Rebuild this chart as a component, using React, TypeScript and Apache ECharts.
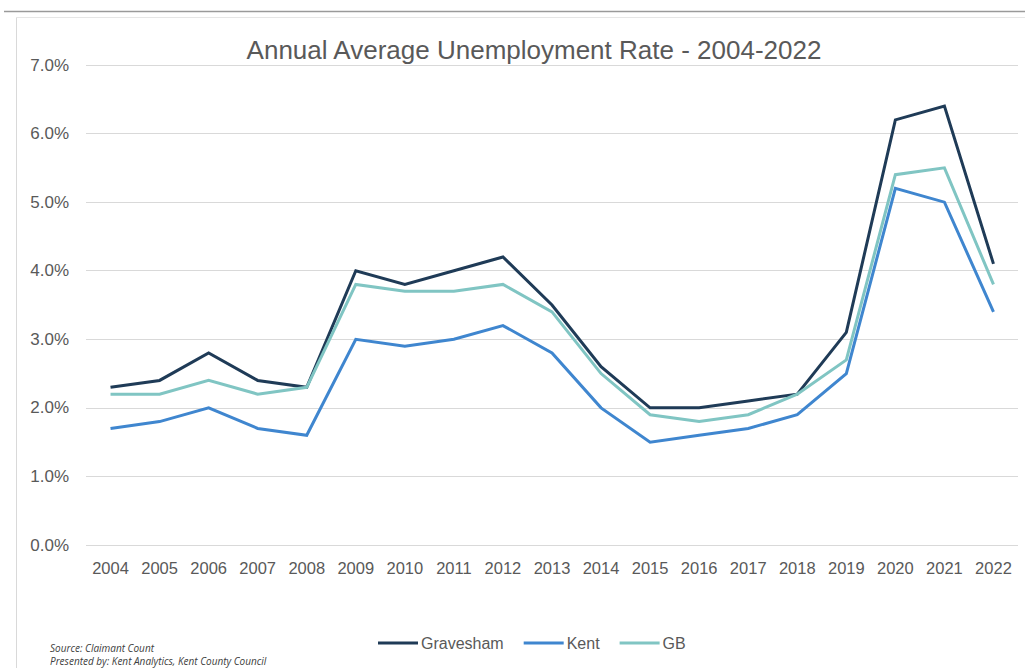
import React, { useEffect, useRef } from "react";
import * as echarts from "echarts";

const years = ["2004","2005","2006","2007","2008","2009","2010","2011","2012","2013","2014","2015","2016","2017","2018","2019","2020","2021","2022"];
const gravesham = [2.3, 2.4, 2.8, 2.4, 2.3, 4.0, 3.8, 4.0, 4.2, 3.5, 2.6, 2.0, 2.0, 2.1, 2.2, 3.1, 6.2, 6.4, 4.1];
const kent = [1.7, 1.8, 2.0, 1.7, 1.6, 3.0, 2.9, 3.0, 3.2, 2.8, 2.0, 1.5, 1.6, 1.7, 1.9, 2.5, 5.2, 5.0, 3.4];
const gb = [2.2, 2.2, 2.4, 2.2, 2.3, 3.8, 3.7, 3.7, 3.8, 3.4, 2.5, 1.9, 1.8, 1.9, 2.2, 2.7, 5.4, 5.5, 3.8];
const title = "Annual Average Unemployment Rate - 2004-2022";
const sourceLines = ["Source: Claimant Count", "Presented by: Kent Analytics, Kent County Council"];

const FONT = "'Liberation Sans', Arial, sans-serif";
const GREY = "#595959";

export default function App() {
  const ref = useRef<HTMLDivElement>(null);
  useEffect(() => {
    const chart = echarts.init(ref.current!, null, { renderer: "svg" });
    const mk = (name: string, data: number[], color: string) => ({
      name,
      type: "line",
      data,
      symbol: "none",
      lineStyle: { color, width: 3, join: "miter" },
      itemStyle: { color },
    });
    chart.setOption({
      animation: false,
      backgroundColor: "#ffffff",
      textStyle: { fontFamily: FONT },
      title: {
        text: title,
        left: 529,
        textAlign: "center",
        top: 32,
        textStyle: { fontSize: 26, fontWeight: "normal", color: GREY, fontFamily: FONT },
      },
      legend: {
        bottom: 12,
        left: 373,
        icon: "rect",
        itemWidth: 40,
        itemHeight: 3,
        itemGap: 20,
        textStyle: { fontSize: 16, color: GREY, fontFamily: FONT, padding: [0, 0, 0, -2] },
        data: ["Gravesham", "Kent", "GB"],
      },
      grid: { left: 86, right: 7, top: 65, bottom: 123, containLabel: false },
      xAxis: {
        type: "category",
        data: years,
        boundaryGap: true,
        axisLine: { show: false },
        axisTick: { show: false },
        axisLabel: { interval: 0, hideOverlap: false, fontSize: 16.5, color: GREY, margin: 14, fontFamily: FONT },
      },
      yAxis: {
        type: "value",
        min: 0,
        max: 7,
        interval: 1,
        axisLine: { show: false },
        axisTick: { show: false },
        splitLine: { lineStyle: { color: "#d9d9d9", width: 1 } },
        axisLabel: {
          fontSize: 17,
          color: GREY,
          margin: 17,
          fontFamily: FONT,
          formatter: (v: number) => v.toFixed(1) + "%",
        },
      },
      graphic: [
        { type: "line", shape: { x1: 4, y1: 11.5, x2: 1025, y2: 11.5 }, style: { stroke: "#9a9a9a", lineWidth: 1.5 } },
        { type: "line", shape: { x1: 16.5, y1: 17, x2: 16.5, y2: 668 }, style: { stroke: "#d9d9d9", lineWidth: 1 } },
        { type: "line", shape: { x1: 16, y1: 17.5, x2: 1025, y2: 17.5 }, style: { stroke: "#e6e6e6", lineWidth: 1 } },
        {
          type: "text",
          left: 50,
          top: 641,
          style: {
            text: sourceLines.join("\n"),
            fontSize: 10,
            lineHeight: 13,
            fontStyle: "italic",
            fill: "#404040",
            fontFamily: "'Open Sans', 'Liberation Sans', sans-serif",
          },
        },
      ],
      series: [
        mk("Gravesham", gravesham, "#1f3b57"),
        mk("Kent", kent, "#3f86cf"),
        mk("GB", gb, "#80c5c3"),
      ],
    });
    return () => chart.dispose();
  }, []);
  return <div ref={ref} style={{ position: "absolute", left: 0, top: 0, width: 1025, height: 668 }} />;
}
